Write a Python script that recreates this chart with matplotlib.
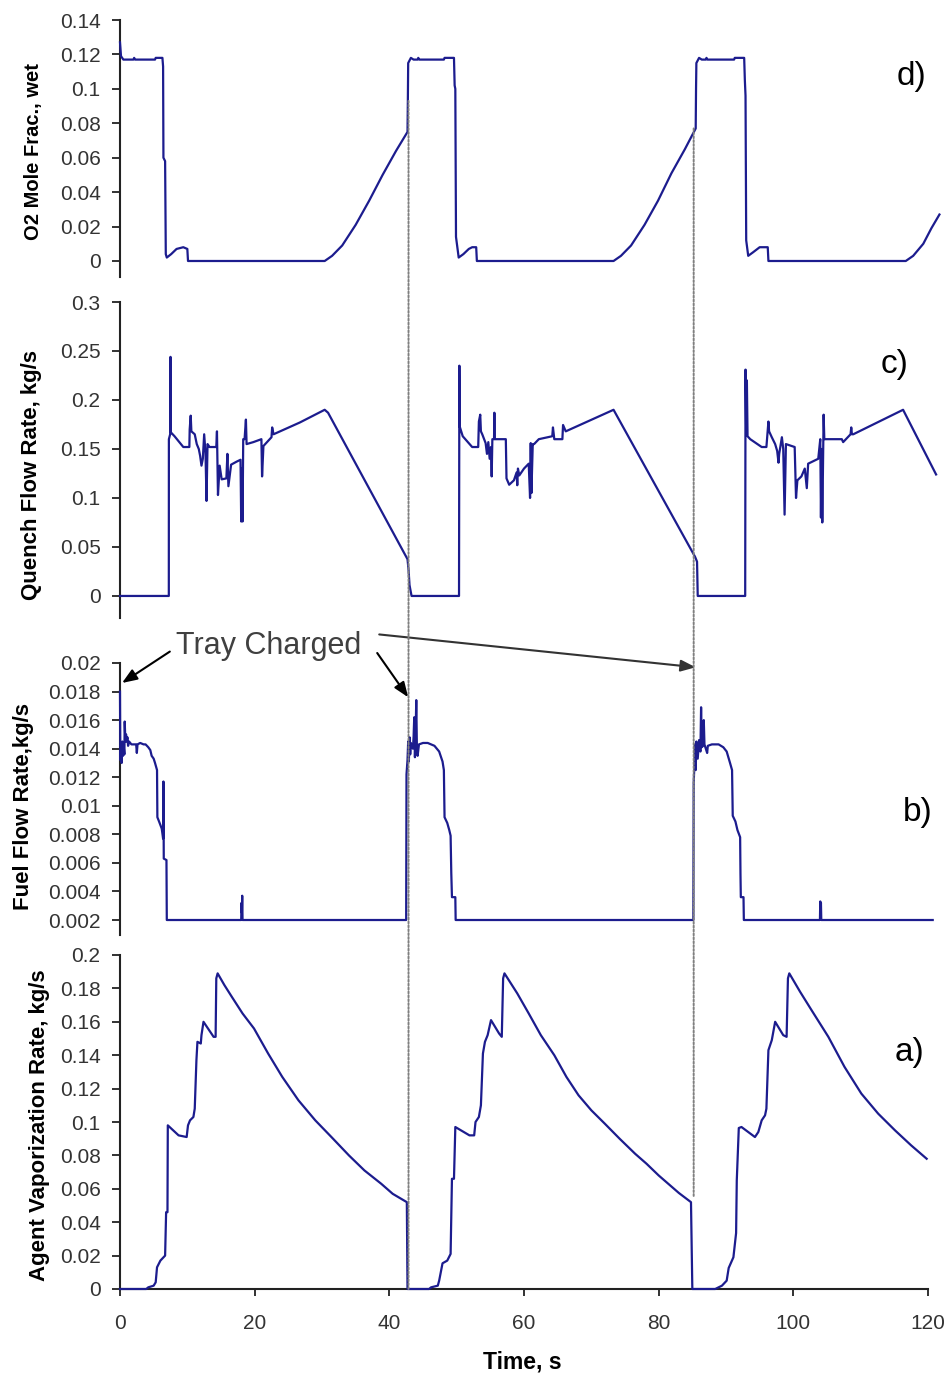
import numpy as np
import matplotlib
matplotlib.use('Agg')
import matplotlib.pyplot as plt
from matplotlib.patches import ConnectionPatch
from matplotlib.ticker import FuncFormatter

plt.rcParams['font.family'] = ['Liberation Sans', 'DejaVu Sans']

# d) O2 mole fraction (wet)
o2_t = [0, 0.15, 0.5, 2.0, 2.1, 2.25, 5.2, 5.3, 6.3, 6.4, 6.45, 6.7, 6.8, 6.95, 7.6, 8.4,
        9.4, 10.0, 10.1, 30.4, 31.5, 33.0, 35.0, 37.0, 39.0, 41.0, 42.7, 42.75, 42.8, 43.2,
        43.6, 44.2, 44.3, 44.45, 48.1, 48.2, 49.6, 49.7, 49.8, 49.9, 50.3, 51.0, 51.8, 52.3,
        52.9, 53.0, 73.3, 74.4, 75.9, 77.9, 79.9, 81.9, 83.9, 85.5, 85.55, 85.6, 86.0, 86.4,
        87.0, 87.1, 87.25, 91.2, 91.3, 92.7, 92.8, 92.9, 93.0, 93.3, 94.0, 95.0, 96.2, 96.3,
        116.7, 117.8, 119.3, 120.5, 121.7]
o2_v = [0.127, 0.119, 0.117, 0.117, 0.118, 0.117, 0.117, 0.118, 0.118, 0.113, 0.060, 0.058,
        0.004, 0.002, 0.004, 0.007, 0.008, 0.007, 0.0, 0.0, 0.003, 0.009, 0.021, 0.035, 0.050,
        0.064, 0.075, 0.093, 0.115, 0.118, 0.117, 0.117, 0.118, 0.117, 0.117, 0.118, 0.118,
        0.102, 0.100, 0.014, 0.002, 0.004, 0.007, 0.008, 0.008, 0.0, 0.0, 0.003, 0.009, 0.021,
        0.035, 0.051, 0.065, 0.077, 0.100, 0.115, 0.118, 0.117, 0.117, 0.118, 0.117, 0.117,
        0.118, 0.118, 0.105, 0.096, 0.012, 0.003, 0.005, 0.008, 0.008, 0.0, 0.0, 0.003, 0.010,
        0.019, 0.027]

# c) quench flow rate
q_t = [0, 7.25, 7.26, 7.45, 7.5, 7.55, 8.1, 9.4, 10.3, 10.35, 10.5, 10.6, 11.1, 11.4, 11.7,
       11.9, 12.1, 12.3, 12.5, 12.7, 12.85, 13.0, 13.3, 14.3, 14.4, 14.55, 14.8, 15.1, 15.8,
       15.95, 16.1, 16.5, 17.3, 17.9, 18.0, 18.1, 18.2, 18.3, 18.5, 18.7, 18.8, 19.8, 21.0,
       21.1, 21.3, 22.5, 22.6, 22.8, 26.7, 30.4, 30.9, 42.7, 42.85, 43.0, 43.3,
       50.35, 50.4, 50.45, 50.9, 52.3, 53.2, 53.3, 53.5, 53.6, 53.8, 54.3, 54.5, 54.7, 54.9,
       55.1, 55.2, 55.3, 55.55, 55.6, 55.65, 57.3, 57.4, 57.8, 58.5, 58.9, 59.0, 59.1, 59.3,
       60.0, 60.7, 60.9, 61.0, 61.1, 61.3, 61.5, 62.2, 64.2, 64.3, 64.5, 65.7, 65.8, 66.2,
       73.3, 85.4, 85.7, 85.8,
       92.85, 92.9, 93.0, 93.1, 93.2, 93.6, 95.3, 96.0, 96.2, 96.3, 96.4, 96.8, 97.3, 97.6,
       97.8, 97.9, 98.3, 98.5, 98.7, 98.9, 100.2, 100.4, 100.6, 101.2, 101.7, 102.0, 102.2,
       103.7, 104.0, 104.1, 104.2, 104.3, 104.5, 104.6, 104.9, 107.2, 107.4, 108.5, 108.6,
       108.7, 108.9, 116.3, 121.2]
q_v = [0, 0, 0.160, 0.165, 0.244, 0.167, 0.163, 0.152, 0.152, 0.170, 0.184, 0.168, 0.165,
       0.155, 0.150, 0.143, 0.133, 0.140, 0.165, 0.146, 0.097, 0.155, 0.152, 0.152, 0.168,
       0.103, 0.133, 0.119, 0.120, 0.145, 0.112, 0.134, 0.137, 0.139, 0.076, 0.130, 0.076,
       0.160, 0.160, 0.180, 0.155, 0.157, 0.160, 0.122, 0.153, 0.162, 0.172, 0.165, 0.177,
       0.190, 0.187, 0.0375, 0.027, 0.011, 0.0,
       0.0, 0.235, 0.173, 0.163, 0.152, 0.152, 0.178, 0.185, 0.168, 0.165, 0.156, 0.145,
       0.157, 0.140, 0.152, 0.122, 0.160, 0.160, 0.187, 0.160, 0.160, 0.120, 0.1135, 0.118,
       0.126, 0.113, 0.130, 0.123, 0.130, 0.135, 0.100, 0.156, 0.105, 0.155, 0.155, 0.160,
       0.163, 0.172, 0.160, 0.160, 0.1745, 0.168, 0.190, 0.040, 0.035, 0.0,
       0.0, 0.231, 0.165, 0.220, 0.163, 0.160, 0.152, 0.152, 0.170, 0.178, 0.168, 0.162,
       0.155, 0.148, 0.136, 0.145, 0.162, 0.150, 0.083, 0.155, 0.152, 0.100, 0.118, 0.122,
       0.130, 0.110, 0.135, 0.140, 0.160, 0.080, 0.150, 0.075, 0.185, 0.160, 0.160, 0.160,
       0.157, 0.165, 0.172, 0.165, 0.165, 0.190, 0.124]

# b) fuel flow rate
f_t = [0, 0.05, 0.15, 0.25, 0.35, 0.45, 0.55, 0.65, 0.7, 0.8, 0.9, 1.0, 1.1, 1.2, 1.35, 1.7,
       2.4, 2.5, 2.6, 3.0, 3.5, 3.8, 4.2, 4.5, 4.7, 5.0, 5.2, 5.5, 5.55, 5.8, 6.2, 6.4, 6.45,
       6.5, 6.9, 6.95, 18.0, 18.05, 18.1, 18.15, 18.2,
       42.5, 42.55, 42.7, 42.8, 42.9, 43.0, 43.1, 43.2, 43.5, 43.6, 43.7, 43.8, 43.9, 44.0,
       44.1, 44.2, 44.4, 45.0, 45.7, 46.7, 47.4, 47.9, 48.1, 48.2, 48.6, 48.9, 49.1, 49.2,
       49.3, 49.8, 49.85,
       85.15, 85.2, 85.3, 85.4, 85.5, 85.6, 85.8, 86.0, 86.2, 86.3, 86.4, 86.6, 86.7, 86.8,
       87.0, 87.2, 87.3, 87.9, 88.9, 89.6, 90.1, 90.6, 90.9, 91.0, 91.4, 91.7, 92.1, 92.15,
       92.2, 92.6, 92.65, 103.95, 104.0, 104.05, 104.1, 104.15, 120.7]
f_v = [0.0180, 0.0132, 0.0140, 0.0130, 0.0145, 0.0135, 0.0142, 0.0136, 0.0159, 0.0145,
       0.0150, 0.0145, 0.0148, 0.0142, 0.0145, 0.0143, 0.0143, 0.0137, 0.0143, 0.0144,
       0.0143, 0.0143, 0.0141, 0.0139, 0.0135, 0.0133, 0.0130, 0.0125, 0.0092, 0.0089,
       0.0084, 0.0077, 0.0117, 0.0063, 0.0062, 0.0020, 0.0020, 0.0032, 0.0025, 0.0037, 0.0020,
       0.0020, 0.0122, 0.0132, 0.0145, 0.0131, 0.0148, 0.0136, 0.0144, 0.0140, 0.0148,
       0.0162, 0.0134, 0.0150, 0.0174, 0.0138, 0.0135, 0.0143, 0.0144, 0.0144, 0.0142,
       0.0138, 0.0131, 0.0125, 0.0092, 0.0088, 0.0083, 0.0079, 0.0053, 0.0036, 0.0036,
       0.0020,
       0.0020, 0.0116, 0.0128, 0.0143, 0.0125, 0.0145, 0.0133, 0.0146, 0.0138, 0.0169,
       0.0141, 0.0142, 0.0160, 0.0143, 0.0140, 0.0137, 0.0142, 0.0143, 0.0143, 0.0141,
       0.0138, 0.0130, 0.0125, 0.0093, 0.0089, 0.0083, 0.0078, 0.0052, 0.0036, 0.0036,
       0.0020, 0.0020, 0.0033, 0.0026, 0.0032, 0.0020, 0.0020]

# a) agent vaporization rate
a_t = [0, 3.9, 4.2, 5.0, 5.3, 5.5, 6.0, 6.7, 6.85, 7.05, 7.1, 8.7, 9.9, 10.1, 10.4, 10.9,
       11.1, 11.35, 11.5, 12.0, 12.1, 12.4, 12.9, 13.9, 14.2, 14.3, 14.5, 15.5, 16.6, 18.2,
       19.9, 22.0, 24.1, 26.5, 29.0, 31.4, 34.0, 36.3, 38.8, 40.5, 42.6, 42.7,
       45.9, 46.2, 47.2, 47.4, 47.9, 48.6, 49.1, 49.3, 49.6, 49.8, 51.9, 52.6, 52.8, 53.3,
       53.6, 53.9, 54.2, 54.6, 55.1, 56.3, 56.7, 56.9, 57.1, 59.0, 60.7, 62.5, 64.5, 66.3,
       68.1, 70.0, 72.0, 74.2, 76.5, 78.2, 80.0, 83.0, 84.8, 85.0,
       88.4, 88.9, 89.4, 90.1, 90.4, 91.1, 91.5, 91.6, 91.9, 92.3, 94.3, 94.8, 95.3, 95.8,
       96.0, 96.3, 96.8, 97.3, 98.5, 99.0, 99.2, 99.4, 101.0, 102.7, 105.2, 107.6, 110.1,
       112.6, 115.1, 117.5, 119.8]
a_v = [0, 0, 0.001, 0.002, 0.004, 0.013, 0.017, 0.020, 0.046, 0.046, 0.098, 0.092, 0.091,
       0.098, 0.101, 0.103, 0.108, 0.137, 0.148, 0.147, 0.152, 0.160, 0.157, 0.151, 0.151,
       0.186, 0.189, 0.182, 0.175, 0.165, 0.156, 0.141, 0.127, 0.113, 0.101, 0.091, 0.080,
       0.071, 0.063, 0.057, 0.052, 0.0,
       0.0, 0.001, 0.002, 0.005, 0.0154, 0.017, 0.021, 0.066, 0.066, 0.097, 0.092, 0.092,
       0.100, 0.103, 0.110, 0.141, 0.148, 0.152, 0.161, 0.153, 0.151, 0.186, 0.189, 0.177,
       0.165, 0.152, 0.140, 0.127, 0.116, 0.107, 0.099, 0.090, 0.081, 0.075, 0.068, 0.0575,
       0.052, 0.0,
       0.0, 0.001, 0.002, 0.005, 0.0126, 0.019, 0.0335, 0.065, 0.0964, 0.097, 0.091, 0.094,
       0.101, 0.104, 0.108, 0.143, 0.149, 0.160, 0.152, 0.151, 0.186, 0.189, 0.178, 0.167,
       0.151, 0.133, 0.117, 0.105, 0.095, 0.086, 0.078]

x_ticks = [0, 20, 40, 60, 80, 100, 120]
charge_times = [42.85, 85.2]

W, H = 948, 1377
fig = plt.figure(figsize=(W / 100, H / 100), dpi=100)


def add_axes(top_px, bottom_px):
    return fig.add_axes([120 / W, 1 - bottom_px / H, 808 / W, (bottom_px - top_px) / H])


ax_d = add_axes(20, 277)
ax_c = add_axes(302, 618)
ax_b = add_axes(663, 935)
ax_a = add_axes(955, 1289)

line_color = '#1c1c8e'
fmt = FuncFormatter(lambda v, p: f'{round(v, 6):g}')

panels = [
    (ax_d, o2_t, o2_v, (-0.0093, 0.14), np.arange(0, 0.141, 0.02)),
    (ax_c, q_t, q_v, (-0.0225, 0.3), np.arange(0, 0.301, 0.05)),
    (ax_b, f_t, f_v, (0.00095, 0.02), np.arange(0.002, 0.0201, 0.002)),
    (ax_a, a_t, a_v, (0, 0.2), np.arange(0, 0.201, 0.02)),
]
for ax, t, v, ylim, yt in panels:
    ax.plot(t, v, color=line_color, lw=1.6, clip_on=False, zorder=3)
    ax.set_xlim(0, 120)
    ax.set_ylim(*ylim)
    ax.set_yticks(yt)
    ax.yaxis.set_major_formatter(fmt)
    for s in ['top', 'right', 'bottom']:
        ax.spines[s].set_visible(False)
    ax.spines['left'].set_linewidth(1.5)
    ax.spines['left'].set_color('#222222')
    ax.tick_params(axis='y', direction='out', length=6, width=1.3, color='#222222',
                   labelsize=15, labelcolor='#333333', pad=8)
    ax.set_xticks([])
    ax.patch.set_alpha(0)

ax_a.spines['bottom'].set_visible(True)
ax_a.spines['bottom'].set_linewidth(1.5)
ax_a.spines['bottom'].set_color('#222222')
ax_a.set_xticks(x_ticks)
ax_a.tick_params(axis='x', direction='out', length=5, width=1.3, color='#222222',
                 labelsize=15, labelcolor='#333333', pad=13)

# axis titles
ylabels = [
    ('O2 Mole Frac., wet', 34, 152, 14.5),
    ('Quench Flow Rate, kg/s', 32, 475, 16),
    ('Fuel Flow Rate,kg/s', 24, 806, 16),
    ('Agent Vaporization Rate, kg/s', 40, 1125, 16),
]
for txt, x, y, fs in ylabels:
    fig.text(x / W, 1 - y / H, txt, rotation=90, ha='center', va='center',
             fontsize=fs, fontweight='bold', color='black')
fig.text(522 / W, 1 - 1362 / H, 'Time, s', ha='center', va='center',
         fontsize=16.5, fontweight='bold', color='black')

# panel tags
for txt, x, y in [('d)', 912, 77), ('c)', 895, 365), ('b)', 918, 812), ('a)', 910, 1052)]:
    fig.text(x / W, 1 - y / H, txt, ha='center', va='center', fontsize=24, color='black')

# dotted markers where a new tray is charged
tops = [0.093, 0.077]
bottoms = [0.0, 0.055]
for tc, ytop, ybot in zip(charge_times, tops, bottoms):
    con = ConnectionPatch(xyA=(tc, ytop), coordsA='data', axesA=ax_d,
                          xyB=(tc, ybot), coordsB='data', axesB=ax_a,
                          color='#808080', lw=1.4, linestyle=(0, (1, 1)), zorder=5)
    fig.add_artist(con)

# "Tray Charged" annotation
ax_b.text(22.0, 0.0206, 'Tray Charged', fontsize=22, color='#404040',
          ha='center', va='baseline', clip_on=False)
arrow_kw = dict(arrowstyle='-|>,head_length=0.9,head_width=0.35', color='black',
                lw=1.5, shrinkA=0, shrinkB=0)
ax_b.annotate('', xy=(0.3, 0.0186), xytext=(7.4, 0.0208), arrowprops=arrow_kw,
              annotation_clip=False)
ax_b.annotate('', xy=(42.8, 0.0176), xytext=(38.2, 0.0207), arrowprops=arrow_kw,
              annotation_clip=False)
ax_b.annotate('', xy=(85.5, 0.0197), xytext=(38.5, 0.0220),
              arrowprops=dict(arrow_kw, color='#333333'), annotation_clip=False)

fig.savefig('out.png', dpi=100)
